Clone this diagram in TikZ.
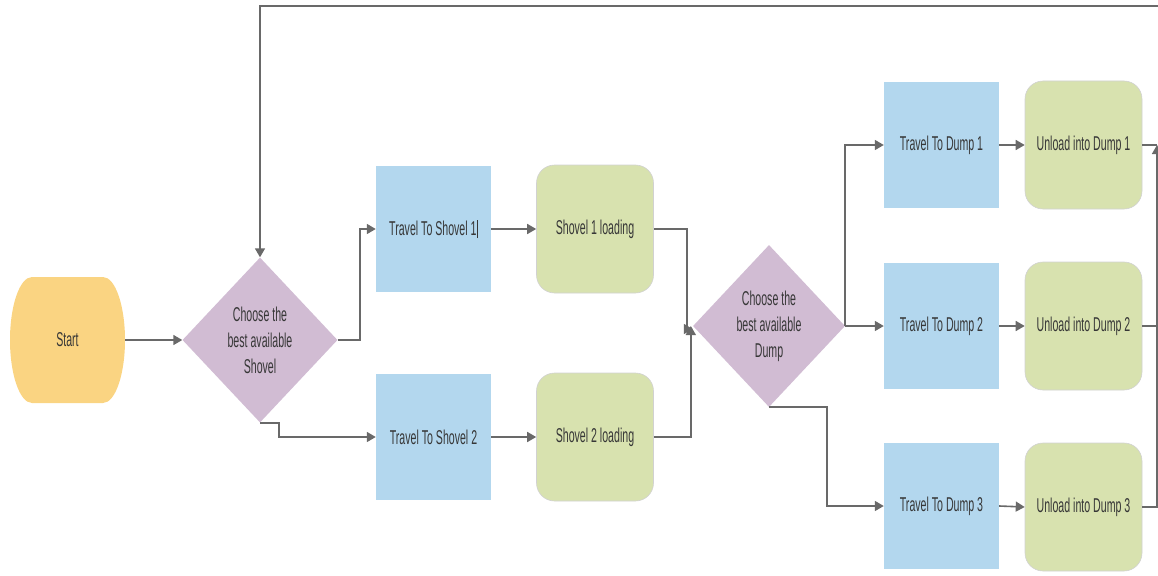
\documentclass[tikz,border=0pt]{standalone}
\usepackage{fontspec}
\setmainfont[FakeStretch=0.53]{Liberation Sans}
\usetikzlibrary{shapes.geometric,arrows.meta,calc}
\definecolor{startc}{RGB}{250,212,130}
\definecolor{decc}{RGB}{209,188,211}
\definecolor{travc}{RGB}{179,215,238}
\definecolor{workc}{RGB}{216,226,175}
\definecolor{linec}{RGB}{105,105,105}
\definecolor{txtc}{RGB}{55,55,55}
\tikzset{
  base/.style={font=\fontsize{20}{26}\selectfont, text=txtc, align=center, inner sep=0pt},
  decbox/.style={base, diamond, fill=decc, minimum width=155pt, minimum height=165pt},
  travbox/.style={base, rectangle, fill=travc, minimum width=115pt, minimum height=126pt},
  workbox/.style={base, rectangle, rounded corners=18pt, fill=workc, draw=black!18, line width=0.6pt, minimum width=117pt, minimum height=128pt},
  startbox/.style={base, rectangle, minimum width=115pt, minimum height=126pt},
  conn/.style={draw=linec, line width=1.6pt},
  arr/.style={conn, -{Triangle[length=9pt,width=10pt]}}
}
\begin{document}
\begin{tikzpicture}[x=1pt,y=-1pt]
\useasboundingbox (0,0) rectangle (1158,575);
% start shape
\fill[startc] (32,277) -- (103,277) arc[start angle=-90,end angle=90,x radius=22,y radius=63] -- (32,403) arc[start angle=90,end angle=270,x radius=22,y radius=63] -- cycle;
\node[startbox] (start) at (67.5,340) {Start};
\node[decbox] (d1) at (260,340) {Choose the\\best available\\Shovel};
\node[travbox] (ts1) at (433.5,229) {Travel To Shovel 1\rule[-3pt]{1.2pt}{18pt}};
\node[travbox] (ts2) at (433.5,437) {Travel To Shovel 2};
\node[workbox] (s1) at (595,229) {Shovel 1 loading};
\node[workbox] (s2) at (595,437) {Shovel 2 loading};
\node[decbox, minimum width=152pt, minimum height=162pt] (d2) at (769,326) {Choose the\\best available\\Dump};
\node[travbox] (td1) at (941.5,145) {Travel To Dump 1};
\node[travbox] (td2) at (941.5,326) {Travel To Dump 2};
\node[travbox] (td3) at (941.5,506) {Travel To Dump 3};
\node[workbox] (u1) at (1083.5,145) {Unload into Dump 1};
\node[workbox] (u2) at (1083.5,326) {Unload into Dump 2};
\node[workbox] (u3) at (1083.5,507) {Unload into Dump 3};
\coordinate (rtop) at (1158,6);
\coordinate (rlow) at (1157,145);
\coordinate (rmid) at (1158,326);
% connectors
\draw[arr] (start.east) -- (d1.west);
\draw[arr] (d1.east) -- ++(22,0) |- (ts1.west);
\draw[arr] (d1.south) -- ++(19,0) |- (ts2.west);
\draw[arr] (ts1.east) -- (s1.west);
\draw[arr] (ts2.east) -- (s2.west);
\draw[arr] (s1.east) -| ([xshift=-6pt,yshift=-3pt]d2.west) -- ([yshift=-3pt]d2.west);
\draw[arr] (s2.east) -| ([xshift=-2pt]d2.west);
\draw[arr] (d2.east) -- (td2.west);
\draw[arr] (d2.east) |- (td1.west);
\draw[arr] (d2.south) -- ++(58,0) |- (td3.west);
\draw[arr] (td1.east) -- (u1.west);
\draw[arr] (td2.east) -- (u2.west);
\draw[arr] (td3.east) -- (u3.west);
\draw[conn] (u1.east) -- (rlow);
\draw[conn] (u2.east) -- (rmid);
\draw[arr] (u3.east) -| (rlow);
\draw[arr] (rtop) -| (d1.north);
\end{tikzpicture}
\end{document}
